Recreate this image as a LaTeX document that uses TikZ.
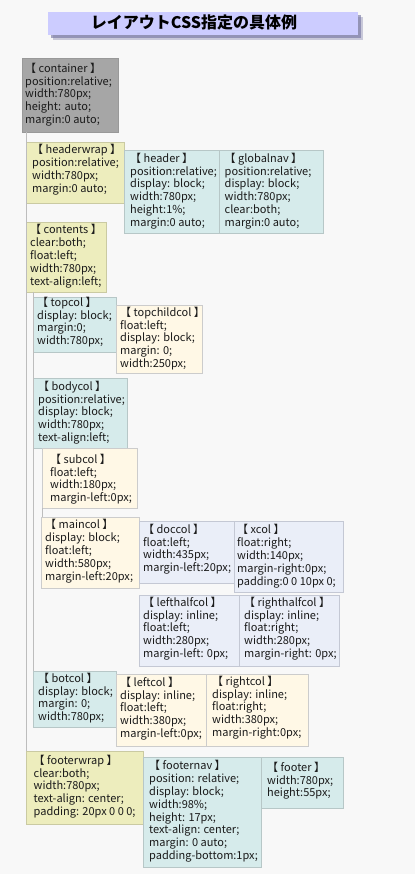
\documentclass[tikz,border=0pt]{standalone}
\usepackage{fontspec}
\newfontfamily\jpfont{Noto Sans CJK JP}
\definecolor{bgcol}{HTML}{F8F8F8}
\definecolor{graybg}{HTML}{A6A6A6}
\definecolor{grayline}{HTML}{999999}
\definecolor{yellowbg}{HTML}{EDEDBD}
\definecolor{yellowline}{HTML}{CACAA2}
\definecolor{tealbg}{HTML}{D6EBEB}
\definecolor{tealline}{HTML}{B7C7C7}
\definecolor{creambg}{HTML}{FFF8E6}
\definecolor{creamline}{HTML}{CCCCCC}
\definecolor{lavbg}{HTML}{EAEEF8}
\definecolor{lavline}{HTML}{C4C8D4}
\definecolor{titlebg}{HTML}{CCCCFF}
\definecolor{titleshade}{HTML}{7070A0}
\definecolor{guidecol}{HTML}{BDBDBD}
\definecolor{textcol}{HTML}{1A1A1A}
\begin{document}
\begin{tikzpicture}[x=1pt,y=1pt,yscale=-1]
  \tikzstyle{box} = [draw, anchor=north west, inner sep=0pt, outer sep=0pt, line width=0.7pt]
  \tikzstyle{graybox} = [box, fill=graybg, draw=grayline]
  \tikzstyle{yellowbox} = [box, fill=yellowbg, draw=yellowline]
  \tikzstyle{tealbox} = [box, fill=tealbg, draw=tealline]
  \tikzstyle{creambox} = [box, fill=creambg, draw=creamline]
  \tikzstyle{lavbox} = [box, fill=lavbg, draw=lavline]
  \tikzstyle{txt} = [anchor=north west, inner sep=0pt, yshift=-0.8pt, align=left, text=textcol, font=\jpfont\fontsize{11}{12.8}\selectfont]
  \tikzstyle{guide} = [draw=guidecol, line width=0.8pt]
  %background and page size
  \fill[bgcol] (0,0) rectangle (415,874);
  \useasboundingbox (0,0) rectangle (415,874);
  %Draw the title with its shadow
  \fill[titleshade, opacity=0.35] (53,17) rectangle (363,40);
  \fill[titleshade, opacity=0.6] (51,15) rectangle (361,38);
  \node[box, draw=none, fill=titlebg, minimum width=310pt, minimum height=23pt] (title) at (48,12) {};
  \node[font=\jpfont\bfseries\fontsize{16}{16}\selectfont, inner sep=0pt] (title-txt) at ([xshift=-9pt,yshift=-1pt]title.center) {レイアウトCSS指定の具体例};

  %Draw the boxes
  \node[graybox, minimum width=96pt, minimum height=74pt] (container) at (22,58) {};
  \node[yellowbox, minimum width=98pt, minimum height=61pt] (headerwrap) at (26,142) {};
  \node[tealbox, minimum width=95pt, minimum height=83pt] (header) at (124,150) {};
  \node[tealbox, minimum width=104pt, minimum height=83pt] (globalnav) at (219,150) {};
  \node[yellowbox, minimum width=80pt, minimum height=70pt] (contents) at (26,222) {};
  \node[tealbox, minimum width=83pt, minimum height=55pt] (topcol) at (33,297) {};
  \node[creambox, minimum width=86pt, minimum height=68pt] (topchildcol) at (116,305) {};
  \node[tealbox, minimum width=94pt, minimum height=70pt] (bodycol) at (33,378) {};
  \node[creambox, minimum width=95pt, minimum height=60pt] (subcol) at (42,448) {};
  \node[creambox, minimum width=98pt, minimum height=71pt] (maincol) at (41,517) {};
  \node[lavbox, minimum width=95pt, minimum height=62pt] (doccol) at (139,521) {};
  \node[lavbox, minimum width=109pt, minimum height=71pt] (xcol) at (234,521) {};
  \node[lavbox, minimum width=100pt, minimum height=71pt] (lefthalfcol) at (139,595) {};
  \node[lavbox, minimum width=100pt, minimum height=71pt] (righthalfcol) at (239,595) {};
  \node[tealbox, minimum width=83pt, minimum height=56pt] (botcol) at (33,671) {};
  \node[creambox, minimum width=90pt, minimum height=72pt] (leftcol) at (116,674) {};
  \node[creambox, minimum width=102pt, minimum height=72pt] (rightcol) at (206,674) {};
  \node[yellowbox, minimum width=117pt, minimum height=73pt] (footerwrap) at (26,751) {};
  \node[tealbox, minimum width=118pt, minimum height=110pt] (footernav) at (143,757) {};
  \node[tealbox, minimum width=82pt, minimum height=51pt] (footer) at (261,757) {};

  %Draw the guide lines
  \draw[guide] (headerwrap.north west |- container.south) -- (footerwrap.north west);
  \draw[guide] (topcol.north west |- contents.south) -- (botcol.north west);
  \draw[guide] (subcol.south west) -- (subcol.south west |- maincol.north);

  % Label the boxes
  \node[txt] (container-txt) at (25,62) {【 container 】\\position:relative;\\width:780px;\\height: auto;\\margin:0 auto;};
  \node[txt] (headerwrap-txt) at (32,143.5) {【 headerwrap 】\\position:relative;\\width:780px;\\margin:0 auto;};
  \node[txt] (header-txt) at (130,152) {【 header 】\\position:relative;\\display: block;\\width:780px;\\height:1\%;\\margin:0 auto;};
  \node[txt] (globalnav-txt) at (224.5,152) {【 globalnav 】\\position:relative;\\display: block;\\width:780px;\\clear:both;\\margin:0 auto;};
  \node[txt] (contents-txt) at (30,223.5) {【 contents 】\\clear:both;\\float:left;\\width:780px;\\text-align:left;};
  \node[txt] (topcol-txt) at (37,296) {【 topcol 】\\display: block;\\margin:0;\\width:780px;};
  \node[txt] (topchildcol-txt) at (120,306) {【 topchildcol 】\\float:left;\\display: block;\\margin: 0;\\width:250px;};
  \node[txt] (bodycol-txt) at (38,380) {【 bodycol 】\\position:relative;\\display: block;\\width:780px;\\text-align:left;};
  \node[txt] (subcol-txt) at (50,453) {【 subcol 】\\float:left;\\width:180px;\\margin-left:0px;};
  \node[txt] (maincol-txt) at (45,518.5) {【 maincol 】\\display: block;\\float:left;\\width:580px;\\margin-left:20px;};
  \node[txt] (doccol-txt) at (143,523) {【 doccol 】\\float:left;\\width:435px;\\margin-left:20px;};
  \node[txt] (xcol-txt) at (237,523.5) {【 xcol 】\\float:right;\\width:140px;\\margin-right:0px;\\padding:0 0 10px 0;};
  \node[txt] (lefthalfcol-txt) at (143,596) {【 lefthalfcol 】\\display: inline;\\float:left;\\width:280px;\\margin-left: 0px;};
  \node[txt] (righthalfcol-txt) at (244,596) {【 righthalfcol 】\\display: inline;\\float:right;\\width:280px;\\margin-right: 0px;};
  \node[txt] (botcol-txt) at (38,672) {【 botcol 】\\display: block;\\margin: 0;\\width:780px;};
  \node[txt] (leftcol-txt) at (120,676) {【 leftcol 】\\display: inline;\\float:left;\\width:380px;\\margin-left:0px;};
  \node[txt] (rightcol-txt) at (212,675) {【 rightcol 】\\display: inline;\\float:right;\\width:380px;\\margin-right:0px;};
  \node[txt] (footerwrap-txt) at (33.5,754) {【 footerwrap 】\\clear:both;\\width:780px;\\text-align: center;\\padding: 20px 0 0 0;};
  \node[txt] (footernav-txt) at (149,759.5) {【 footernav 】\\position: relative;\\display: block;\\width:98\%;\\height: 17px;\\text-align: center;\\margin: 0 auto;\\padding-bottom:1px;};
  \node[txt] (footer-txt) at (267,761) {【 footer 】\\width:780px;\\height:55px;};
\end{tikzpicture}
\end{document}
